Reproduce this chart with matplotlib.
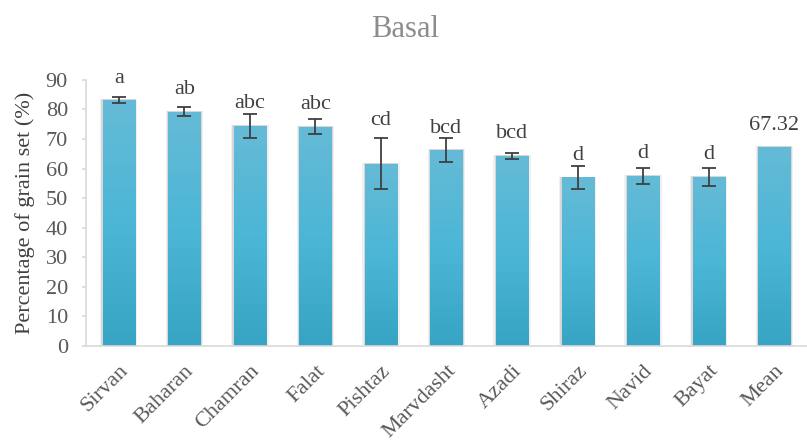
import numpy as np
import matplotlib
matplotlib.use("Agg")
import matplotlib.pyplot as plt
from matplotlib.colors import LinearSegmentedColormap

# grain set per cultivar (basal), standard error and letter groups
cultivars = ['Sirvan', 'Baharan', 'Chamran', 'Falat', 'Pishtaz', 'Marvdasht',
             'Azadi', 'Shiraz', 'Navid', 'Bayat', 'Mean']
grain_set = [83.2, 79.3, 74.4, 74.2, 61.7, 66.3, 64.3, 57.0, 57.6, 57.2, 67.32]
errors = [1.1, 1.4, 4.0, 2.5, 8.6, 4.1, 1.0, 3.8, 2.7, 3.0, 0.0]
groups = ['a', 'ab', 'abc', 'abc', 'cd', 'bcd', 'bcd', 'd', 'd', 'd', '67.32']
# baseline height of each letter label (data units)
label_y = [88.9, 85.3, 80.4, 80.1, 74.8, 72.2, 70.3, 62.9, 63.5, 63.2, 73.1]

plt.rcParams['font.family'] = ['Liberation Serif', 'DejaVu Serif']

fig = plt.figure(figsize=(8.07, 4.45), dpi=100)
ax = fig.add_axes([0.1065, 0.2225, 0.8935, 0.598])

x = np.arange(len(cultivars))
width = 0.49
cmap = LinearSegmentedColormap.from_list('bar', ['#37a4c4', '#4cb6d6', '#65bbd7'])
grad = np.linspace(0, 1, 256).reshape(-1, 1)

for xi, v, e, g, ly in zip(x, grain_set, errors, groups, label_y):
    # soft shadow behind the bar
    for k, a in [(0.04, 0.06), (0.02, 0.10)]:
        ax.add_patch(plt.Rectangle((xi - width / 2 - k, 0), width + 2 * k, v + 0.3,
                                   color='#000000', alpha=a, lw=0, zorder=1))
    bar = ax.bar(xi, v, width=width, color='none', lw=0, zorder=2)[0]
    im = ax.imshow(grad, cmap=cmap, aspect='auto', origin='lower',
                   extent=[xi - width / 2, xi + width / 2, 0, v], zorder=2)
    im.set_clip_path(bar)
    if e > 0:
        ax.errorbar(xi, v, yerr=e, fmt='none', ecolor='#404040', elinewidth=1.3,
                    capsize=5, capthick=1.3, zorder=3)
    ax.text(xi, ly, g, ha='center', va='baseline', fontsize=16, color='#404040')

ax.set_xlim(-0.5, len(cultivars) - 0.5)
ax.set_ylim(0, 90)
ax.set_yticks(range(0, 91, 10))
ax.set_xticks(x)
ax.set_xticklabels(cultivars, rotation=45, ha='right', rotation_mode='anchor',
                   fontsize=16, color='#595959')
ax.tick_params(axis='x', length=0, pad=11)
ax.tick_params(axis='y', labelsize=16, labelcolor='#595959', length=3,
               color='#d9d9d9', width=1.2, pad=10)
for s in ['top', 'right']:
    ax.spines[s].set_visible(False)
for s in ['left', 'bottom']:
    ax.spines[s].set_color('#d9d9d9')
    ax.spines[s].set_linewidth(1.2)

ax.set_ylabel('Percentage of grain set (%)', fontsize=16, color='#404040', labelpad=8)
fig.text(0.502, 1 - 37 / 445, 'Basal', ha='center', va='baseline', fontsize=22,
         color='#8c8c8c')

fig.savefig('out.png', dpi=100)
